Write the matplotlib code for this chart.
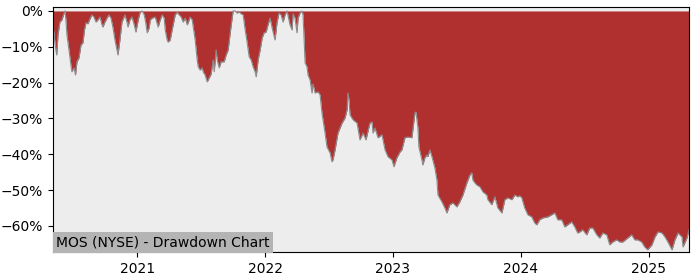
import pandas as pd
import matplotlib.pyplot as plt
import matplotlib.dates as mdates
from matplotlib.ticker import PercentFormatter

# drawdown readings: decimal year, drawdown in percent
years = [
    2020.344, 2020.363, 2020.373, 2020.383, 2020.398, 2020.414, 2020.426, 2020.438, 2020.445, 2020.453,
    2020.469, 2020.484, 2020.492, 2020.508, 2020.520, 2020.531, 2020.547, 2020.563, 2020.578, 2020.590,
    2020.602, 2020.617, 2020.633, 2020.648, 2020.664, 2020.680, 2020.695, 2020.711, 2020.727, 2020.734,
    2020.750, 2020.766, 2020.781, 2020.797, 2020.813, 2020.828, 2020.844, 2020.852, 2020.867, 2020.883,
    2020.906, 2020.922, 2020.930, 2020.945, 2020.961, 2020.977, 2020.992, 2021.008, 2021.023, 2021.039,
    2021.055, 2021.066, 2021.078, 2021.094, 2021.102, 2021.117, 2021.141, 2021.156, 2021.164,
    2021.180, 2021.195, 2021.211, 2021.219, 2021.234, 2021.242, 2021.258, 2021.273, 2021.281, 2021.297,
    2021.313, 2021.328, 2021.344, 2021.359, 2021.375, 2021.391, 2021.398, 2021.414, 2021.430, 2021.438,
    2021.453, 2021.469, 2021.477, 2021.492, 2021.508, 2021.516, 2021.531, 2021.547, 2021.563, 2021.578,
    2021.594, 2021.602, 2021.617, 2021.625, 2021.641, 2021.656, 2021.680, 2021.695, 2021.711, 2021.727,
    2021.742, 2021.750, 2021.766, 2021.781, 2021.797, 2021.813, 2021.828, 2021.844, 2021.859, 2021.875,
    2021.891, 2021.906, 2021.922, 2021.930, 2021.945, 2021.961, 2021.977, 2021.992, 2022.008, 2022.023,
    2022.039, 2022.055, 2022.078, 2022.094, 2022.109, 2022.125, 2022.141, 2022.156, 2022.172, 2022.180,
    2022.195, 2022.211, 2022.219, 2022.234, 2022.250, 2022.258, 2022.273, 2022.289, 2022.297,
    2022.313, 2022.328, 2022.336, 2022.352, 2022.367, 2022.375, 2022.391, 2022.414, 2022.430, 2022.445,
    2022.469, 2022.484, 2022.508, 2022.523, 2022.531, 2022.547, 2022.570, 2022.586, 2022.602, 2022.625,
    2022.641, 2022.648, 2022.656, 2022.664, 2022.688, 2022.719, 2022.742, 2022.766, 2022.789, 2022.805,
    2022.820, 2022.836, 2022.844, 2022.859, 2022.883, 2022.914, 2022.922, 2022.938, 2022.961, 2022.992,
    2023.008, 2023.031, 2023.055, 2023.070, 2023.094, 2023.117, 2023.148, 2023.156, 2023.172, 2023.180,
    2023.195, 2023.203, 2023.227, 2023.234, 2023.250, 2023.266, 2023.273, 2023.289, 2023.305, 2023.328,
    2023.344, 2023.352, 2023.383, 2023.406, 2023.422, 2023.445, 2023.469, 2023.500, 2023.523, 2023.547,
    2023.578, 2023.602, 2023.617, 2023.625, 2023.641,
    2023.656, 2023.680, 2023.703, 2023.734, 2023.742, 2023.773, 2023.797, 2023.820, 2023.852, 2023.875,
    2023.898, 2023.930, 2023.953, 2023.977, 2023.992, 2024.008, 2024.031, 2024.055, 2024.086, 2024.109,
    2024.125, 2024.148, 2024.172, 2024.211, 2024.242, 2024.266, 2024.289, 2024.320, 2024.344, 2024.367,
    2024.398, 2024.422, 2024.445,
    2024.461, 2024.484, 2024.516, 2024.539, 2024.563, 2024.594, 2024.617, 2024.641, 2024.672, 2024.695,
    2024.719, 2024.750, 2024.773, 2024.797, 2024.836, 2024.867, 2024.891, 2024.914, 2024.945, 2024.969,
    2024.992, 2025.023, 2025.047, 2025.070, 2025.102, 2025.125, 2025.148, 2025.180, 2025.203, 2025.227,
    2025.258, 2025.266, 2025.297, 2025.313,
]

drawdown = [
    -3.9, -10.0, -12.3, -6.7, -3.1, -2.5, -1.1, 0.0, -2.5, -6.7,
    -10.9, -15.1, -17.0, -15.9, -17.9, -14.2, -13.1, -9.5, -8.9, -5.3,
    -3.3, -3.6, -2.2, -1.1, -1.7, -3.1, -2.5, -1.7, -3.9, -4.5,
    -3.1, -2.0, -1.1, -2.0, -4.7, -8.1, -10.9, -12.3, -8.1, -3.1,
    -1.1, -3.1, -4.5, -2.5, -1.7, -3.6, -5.9, -2.5, -0.4, 0.0,
    -1.1, -3.1, -6.1, -4.7, -2.5, -2.0, -1.7, -3.6, -4.5,
    -2.5, -1.1, -2.0, -5.3, -8.1, -8.7, -8.1, -5.3, -3.9, -1.1,
    -0.4, -1.1, -1.7, -3.1, -2.0, -3.9, -3.3, -1.7, -2.5, -4.5,
    -8.1, -13.7, -15.6, -16.5, -15.9, -17.0, -17.9, -19.8, -18.7, -17.6,
    -13.7, -17.0, -10.9, -13.7, -15.9, -14.2, -14.2, -12.3, -10.9, -6.1,
    -2.0, 0.0, 0.0, -0.6, -0.3, -0.8, -1.1, -5.3, -8.7, -12.8,
    -13.7, -15.6, -17.0, -18.4, -13.7, -10.9, -7.5, -6.1, -5.9, -3.9,
    -2.0, -4.7, -8.1, -3.1, -0.6, -1.1, -3.1, -1.1, 0.0, -1.4,
    -3.9, -5.3, -0.8, -2.0, -6.1, -2.0, -0.6, 0.0, -1.1,
    -14.5, -15.6, -17.9, -19.3, -22.9, -20.4, -22.9, -22.6, -23.4, -28.5,
    -34.1, -38.0, -39.6, -42.1, -41.6, -38.8, -34.1, -32.7, -31.3, -29.9,
    -27.6, -22.9, -24.8, -29.0, -30.4, -31.3, -36.0, -34.1, -36.0, -33.5,
    -31.3, -31.0, -34.1, -32.7, -35.4, -34.6, -36.0, -38.8, -40.7, -41.6,
    -43.5, -41.0, -39.4, -38.8, -35.4, -35.2, -35.4, -33.2, -28.5, -28.2,
    -32.4, -38.0, -41.6, -43.0, -41.0, -40.2, -40.7, -38.8, -40.7, -43.8,
    -47.2, -51.4, -53.3, -55.0, -56.4, -54.1, -53.6, -54.7, -53.3, -51.4,
    -48.0, -45.8, -45.2, -47.2, -48.0,
    -48.6, -49.1, -50.5, -51.4, -52.7, -54.1, -51.9, -55.0, -56.4, -52.7,
    -52.2, -52.7, -51.4, -51.9, -51.6, -52.2, -55.0, -56.9, -57.5, -59.2,
    -59.7, -58.3, -57.8, -57.5, -56.9, -56.4, -58.3, -58.3, -60.3, -59.7,
    -58.9, -60.3, -62.0,
    -61.7, -61.1, -62.5, -60.6, -60.6, -62.5, -63.4, -62.0, -62.5, -65.3,
    -64.5, -63.9, -64.5, -64.5, -63.4, -62.5, -63.9, -63.9, -64.5, -65.9,
    -66.7, -65.3, -63.1, -61.7, -62.0, -63.1, -64.5, -66.7, -63.9, -62.0,
    -63.1, -65.9, -63.4, -61.1,
]

title_text = "MOS (NYSE) - Drawdown Chart"


def to_date(y):
    base = pd.Timestamp(int(y), 1, 1)
    return base + pd.Timedelta(days=(y - int(y)) * 365.25)


dates = [to_date(y) for y in years]

fig = plt.figure(figsize=(7, 2.8), dpi=100)
ax = fig.add_axes([0.0757, 0.1, 0.9086, 0.875])
ax.set_facecolor("#ededed")

ax.fill_between(dates, drawdown, 0, color="#b03030", linewidth=0)
ax.plot(dates, drawdown, color="#8c8c8c", linewidth=0.8)

ax.set_xlim(dates[0], dates[-1])
ax.set_ylim(-67.3, 1.1)
ax.set_yticks([0, -10, -20, -30, -40, -50, -60])
ax.yaxis.set_major_formatter(PercentFormatter(decimals=0))
ax.xaxis.set_major_locator(mdates.YearLocator())
ax.xaxis.set_major_formatter(mdates.DateFormatter("%Y"))

ax.text(0.005, 0.012, title_text, transform=ax.transAxes, fontsize=10,
        ha="left", va="bottom",
        bbox=dict(facecolor="#b4b4b4", edgecolor="none", pad=2.5))

fig.savefig("out.png")
